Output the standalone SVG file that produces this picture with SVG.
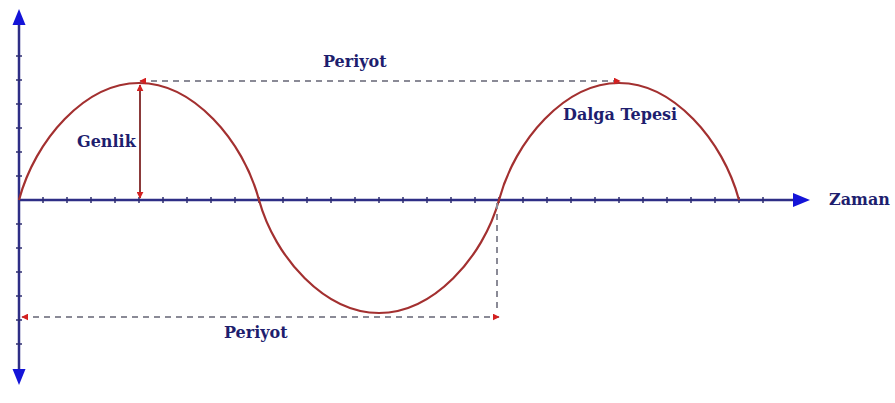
<svg xmlns="http://www.w3.org/2000/svg" width="895" height="403" viewBox="0 0 895 403">
<defs>
<style>
.axis{stroke:#2e2e86;stroke-width:2.5;fill:none}
.tick{stroke:#2e2e70;stroke-width:1.5}
.wave{stroke:#a33030;stroke-width:2.2;fill:none}
.dash{stroke:#8a8a96;stroke-width:2;stroke-dasharray:6 5;fill:none}
.amp{stroke:#8b3a3a;stroke-width:2;fill:none}
.lbl{font-family:"DejaVu Serif","Liberation Serif",serif;font-weight:bold;font-size:16px;fill:#1e1e6e}
.blue{fill:#1414d8}
</style>
<marker id="red" viewBox="0 0 10 10" refX="9" refY="5" markerWidth="7" markerHeight="7" markerUnits="userSpaceOnUse" orient="auto-start-reverse">
<path d="M0,0 L10,5 L0,10 z" fill="#d42020"/>
</marker>
</defs>
<rect width="895" height="403" fill="#ffffff"/>
<g id="axes">
<line class="axis" x1="19" y1="22" x2="19" y2="372"/>
<line class="axis" x1="19" y1="200" x2="796" y2="200"/>
<path class="blue" d="M19,9 L12.5,25 L25.5,25 z"/>
<path class="blue" d="M19,385 L12.5,369 L25.5,369 z"/>
<path class="blue" d="M810,200 L793,193 L793,207 z"/>
<g id="ticks">
<path class="tick" d="M43,197v6M67,197v6M91,197v6M115,197v6M139,197v6M163,197v6M187,197v6M211,197v6M235,197v6M259,197v6M283,197v6M307,197v6M331,197v6M355,197v6M379,197v6M403,197v6M427,197v6M451,197v6M475,197v6M499,197v6M523,197v6M547,197v6M571,197v6M595,197v6M619,197v6M643,197v6M667,197v6M691,197v6M715,197v6M739,197v6M763,197v6"/>
<path class="tick" d="M16,56h6M16,80h6M16,104h6M16,128h6M16,152h6M16,176h6M16,224h6M16,248h6M16,272h6M16,296h6M16,320h6M16,344h6"/>
</g>
</g>
<g id="wave">
<path class="wave" d="M19,200 C35,140 85,83 139,83 C193,83 243,140 259,200 C275,258 325,313 379,313 C433,313 483,258 499,200 C515,140 565,83 619,83 C673,83 723,140 739,200"/>
</g>
<g id="connectors">
<line class="amp" x1="140" y1="85" x2="140" y2="198" marker-start="url(#red)" marker-end="url(#red)"/>
<line class="dash" x1="140" y1="81" x2="620" y2="81" marker-start="url(#red)" marker-end="url(#red)"/>
<line class="dash" x1="22" y1="317" x2="499" y2="317" marker-start="url(#red)" marker-end="url(#red)"/>
<line class="dash" x1="497" y1="203" x2="497" y2="312"/>
</g>
<g id="labels">
<text class="lbl" x="323" y="67">Periyot</text>
<text class="lbl" x="77" y="147">Genlik</text>
<text class="lbl" x="563" y="120">Dalga Tepesi</text>
<text class="lbl" x="829" y="205">Zaman</text>
<text class="lbl" x="224" y="338">Periyot</text>
</g>
</svg>
